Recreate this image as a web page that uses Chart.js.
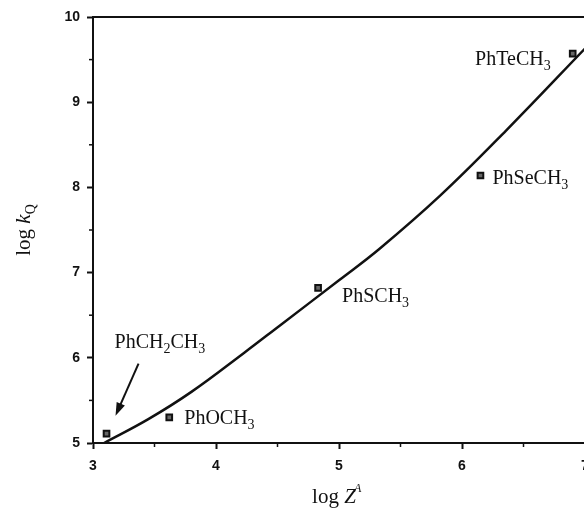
<!DOCTYPE html>
<html>
<head>
<meta charset="utf-8">
<script src="https://cdn.jsdelivr.net/npm/chart.js@4/dist/chart.umd.min.js"></script>
<style>
  html, body { margin: 0; padding: 0; background: #fff; overflow: hidden; }
  #wrap { width: 600px; height: 508px; position: relative; }
</style>
</head>
<body>
<div id="wrap"><canvas id="myChart"></canvas></div>
<script>
// measured compounds (log Z^A, log kQ)
const compounds = ['PhCH_2CH_3', 'PhOCH_3', 'PhSCH_3', 'PhSeCH_3', 'PhTeCH_3'];
const logZ = [3.11, 3.62, 4.83, 6.15, 6.90];
const logKQ = [5.11, 5.30, 6.82, 8.14, 9.57];

// fitted curve
const fitX = [3.09, 3.45, 3.80, 4.23, 4.52, 5.00, 5.33, 5.82, 6.36, 7.00];
const fitY = [5.00, 5.28, 5.60, 6.06, 6.38, 6.91, 7.28, 7.90, 8.67, 9.63];

const xTicks = [3, 4, 5, 6, 7];
const yTicks = [5, 6, 7, 8, 9, 10];

const serif = '"Liberation Serif", "Times New Roman", serif';
const sans = '"Liberation Sans", Arial, sans-serif';

// label offsets from the point, in px
const labelOffsets = [
  { dx: 8, dy: -86, align: 'left' },
  { dx: 15, dy: 7, align: 'left' },
  { dx: 24, dy: 14, align: 'left' },
  { dx: 12, dy: 9, align: 'left' },
  { dx: -22, dy: 11, align: 'right' }
];

function splitSub(str) {
  return str.split(/_(\w)/).map((s, i) => [s, i % 2 === 1]).filter(p => p[0]);
}

function drawRich(ctx, parts, x, y, align) {
  let w = 0;
  parts.forEach(p => {
    ctx.font = p[1] ? '14px ' + serif : '20px ' + serif;
    w += ctx.measureText(p[0]).width;
  });
  let cx = align === 'right' ? x - w : x;
  parts.forEach(p => {
    ctx.font = p[1] ? '14px ' + serif : '20px ' + serif;
    ctx.fillText(p[0], cx, p[1] ? y + 5 : y);
    cx += ctx.measureText(p[0]).width;
  });
}

const extras = {
  id: 'extras',
  afterDraw(chart) {
    const ctx = chart.ctx;
    const xs = chart.scales.x, ys = chart.scales.y;
    const area = chart.chartArea;
    ctx.save();
    ctx.fillStyle = '#111';
    ctx.strokeStyle = '#111';
    ctx.textBaseline = 'alphabetic';
    ctx.textAlign = 'left';

    // top frame line
    ctx.lineWidth = 2;
    ctx.beginPath();
    ctx.moveTo(area.left, area.top);
    ctx.lineTo(area.right, area.top);
    ctx.stroke();

    // minor ticks at half steps
    ctx.lineWidth = 1.5;
    for (let i = 0; i < xTicks.length - 1; i++) {
      const px = xs.getPixelForValue((xTicks[i] + xTicks[i + 1]) / 2);
      ctx.beginPath();
      ctx.moveTo(px, area.bottom);
      ctx.lineTo(px, area.bottom + 4);
      ctx.stroke();
    }
    for (let i = 0; i < yTicks.length - 1; i++) {
      const py = ys.getPixelForValue((yTicks[i] + yTicks[i + 1]) / 2);
      ctx.beginPath();
      ctx.moveTo(area.left, py);
      ctx.lineTo(area.left - 4, py);
      ctx.stroke();
    }

    // point labels
    compounds.forEach((name, i) => {
      const px = xs.getPixelForValue(logZ[i]);
      const py = ys.getPixelForValue(logKQ[i]);
      const o = labelOffsets[i];
      drawRich(ctx, splitSub(name), px + o.dx, py + o.dy, o.align);
    });

    // arrow to PhCH2CH3
    const ax = xs.getPixelForValue(logZ[0]);
    const ay = ys.getPixelForValue(logKQ[0]);
    const tipX = ax + 9, tipY = ay - 18;
    const tailX = ax + 32, tailY = ay - 70;
    const ang = Math.atan2(tipY - tailY, tipX - tailX);
    ctx.lineWidth = 2;
    ctx.beginPath();
    ctx.moveTo(tailX, tailY);
    ctx.lineTo(tipX - 8 * Math.cos(ang), tipY - 8 * Math.sin(ang));
    ctx.stroke();
    ctx.beginPath();
    ctx.moveTo(tipX, tipY);
    ctx.lineTo(tipX - 13 * Math.cos(ang) + 4.5 * Math.sin(ang), tipY - 13 * Math.sin(ang) - 4.5 * Math.cos(ang));
    ctx.lineTo(tipX - 13 * Math.cos(ang) - 4.5 * Math.sin(ang), tipY - 13 * Math.sin(ang) + 4.5 * Math.cos(ang));
    ctx.closePath();
    ctx.fill();

    // x axis title: log Z^A
    ctx.font = '21px ' + serif;
    const w1 = ctx.measureText('log ').width;
    ctx.font = 'italic 21px ' + serif;
    const w2 = ctx.measureText('Z').width;
    let tx = 337 - (w1 + w2 + 6) / 2;
    ctx.font = '21px ' + serif;
    ctx.fillText('log ', tx, 503);
    ctx.font = 'italic 21px ' + serif;
    ctx.fillText('Z', tx + w1, 503);
    ctx.font = 'italic 12px ' + serif;
    ctx.fillText('A', tx + w1 + w2 - 2, 492);

    // y axis title: log kQ
    ctx.translate(30, (area.top + area.bottom) / 2);
    ctx.rotate(-Math.PI / 2);
    ctx.font = '21px ' + serif;
    const v1 = ctx.measureText('log ').width;
    ctx.font = 'italic 21px ' + serif;
    const v2 = ctx.measureText('k').width;
    ctx.font = '14px ' + serif;
    const v3 = ctx.measureText('Q').width;
    let ty = -(v1 + v2 + v3) / 2;
    ctx.font = '21px ' + serif;
    ctx.fillText('log ', ty, 0);
    ctx.font = 'italic 21px ' + serif;
    ctx.fillText('k', ty + v1, 0);
    ctx.font = '14px ' + serif;
    ctx.fillText('Q', ty + v1 + v2, 5);
    ctx.restore();
  }
};

const chartContext = document.getElementById('myChart').getContext('2d');
const myChart = new Chart(chartContext, {
  type: 'scatter',
  data: {
    datasets: [
      {
        data: fitX.map((x, i) => ({ x: x, y: fitY[i] })),
        showLine: true,
        borderColor: '#111',
        borderWidth: 2.5,
        pointRadius: 0,
        tension: 0.4,
        order: 1
      },
      {
        data: logZ.map((x, i) => ({ x: x, y: logKQ[i] })),
        pointStyle: 'rect',
        pointRadius: 4,
        backgroundColor: '#666',
        borderColor: '#111',
        borderWidth: 2,
        order: 2
      }
    ]
  },
  options: {
    responsive: true,
    maintainAspectRatio: false,
    animation: false,
    layout: { padding: { top: 17, right: 15, left: 0, bottom: 0 } },
    plugins: { legend: { display: false }, tooltip: { enabled: false } },
    scales: {
      x: {
        type: 'linear',
        min: 3,
        max: 7,
        afterFit(scale) { scale.height = 65; },
        afterBuildTicks(scale) { scale.ticks = xTicks.map(v => ({ value: v })); },
        ticks: {
          color: '#111',
          font: { family: sans, size: 14, weight: 'bold' },
          padding: 9,
          maxRotation: 0
        },
        grid: { drawOnChartArea: false, tickLength: 6, tickColor: '#111', tickWidth: 2 },
        border: { color: '#111', width: 2 }
      },
      y: {
        min: 5,
        max: 10,
        afterFit(scale) { scale.width = 93; },
        afterBuildTicks(scale) { scale.ticks = yTicks.map(v => ({ value: v })); },
        ticks: {
          color: '#111',
          font: { family: sans, size: 14, weight: 'bold' },
          padding: 7
        },
        grid: { drawOnChartArea: false, tickLength: 6, tickColor: '#111', tickWidth: 2 },
        border: { color: '#111', width: 2 }
      }
    }
  },
  plugins: [extras]
});
</script>
</body>
</html>
